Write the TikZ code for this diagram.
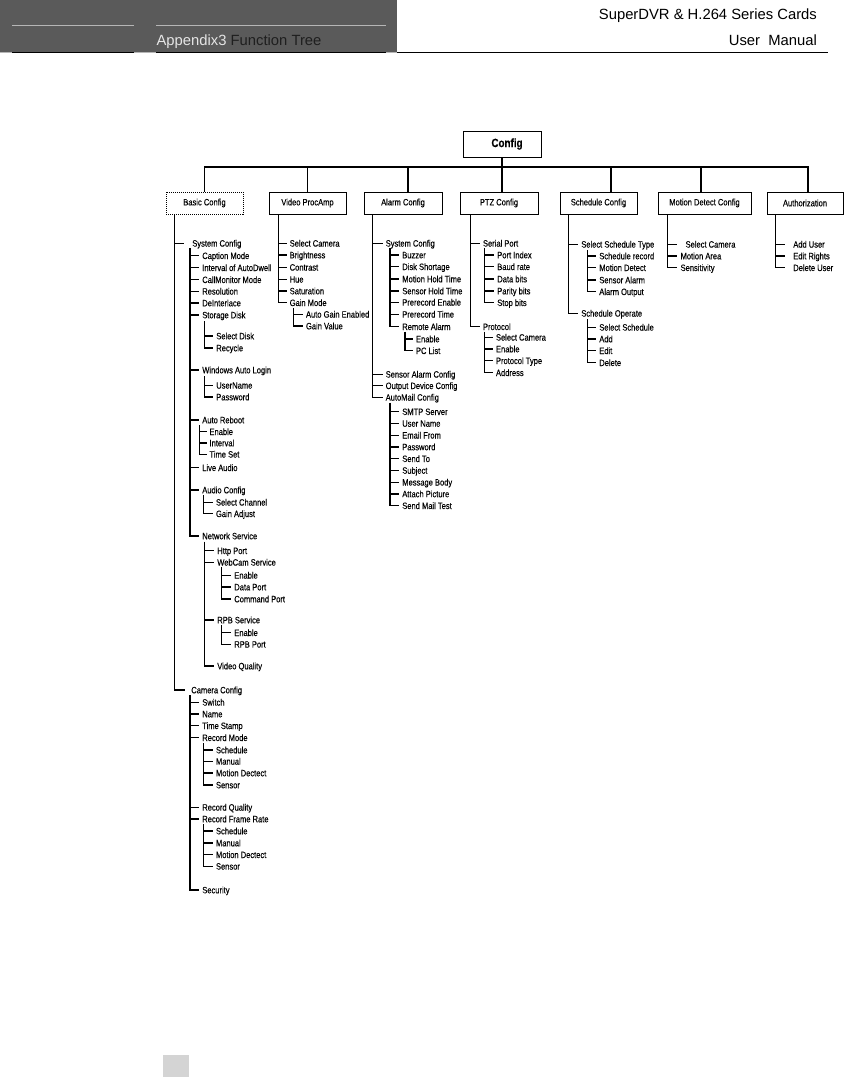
\documentclass[tikz,border=0pt]{standalone}
\usepackage{fontspec}
\setmainfont{Liberation Sans}
\newfontfamily\narrowsf{Liberation Sans}[FakeStretch=0.82, FakeBold=0.2]
\usepackage{tikz}
\usetikzlibrary{positioning,calc}
\definecolor{headgray}{RGB}{90,90,90}
\definecolor{headline}{RGB}{182,182,182}
\definecolor{pagegray}{RGB}{212,212,212}

\begin{document}
\begin{tikzpicture}[x=1pt, y=-1pt, line width=1.2pt,
  every node/.style={font=\narrowsf\fontsize{9.2}{10}\selectfont},
  leaf/.style={anchor=west, inner xsep=2.4pt, inner ysep=0pt, text height=6.6pt, text depth=0pt},
  cfgbox/.style={draw, line width=1pt, minimum width=77pt, minimum height=22pt, inner sep=1pt}]
  \useasboundingbox (0,0) rectangle (844,1077);

  \fill[headgray] (0,0) rectangle (397,52);
  \draw[headline, line width=1pt] (12,25.5) -- (134,25.5) (156,25.5) -- (386,25.5);
  \draw[black, line width=1pt] (0,52.5) -- (828,52.5);
  \draw[headline, line width=1pt] (0,52.5) -- (12,52.5) (134,52.5) -- (156,52.5) (386,52.5) -- (397,52.5);
  \node[anchor=base west, inner sep=0pt, font=\fontsize{14.8}{16}\selectfont] (chapter) at (156,45) {\textcolor{white!90!black}{Appendix3} \textcolor{black!88}{Function Tree}};
  \node[anchor=base east, inner sep=0pt, font=\fontsize{14.8}{16}\selectfont] (product) at (817.5,19) {SuperDVR \& H.264 Series Cards};
  \node[anchor=base east, inner sep=0pt, font=\fontsize{14.8}{16}\selectfont] (manual) at (817.5,45) {User\ \ Manual};
  \fill[pagegray] (163,1055) rectangle (189,1077);

  \node[draw, line width=1pt, minimum width=78pt, minimum height=26pt, font=\narrowsf\bfseries\fontsize{12}{14}\selectfont] (config) at (502,144) {\hspace*{10pt}Config};
  \node[cfgbox, densely dotted] (basic) at (204.5,203) {Basic Config};
  \node[cfgbox] (video) at (307.5,203) {Video ProcAmp};
  \node[cfgbox, minimum width=78pt] (alarm) at (403,203) {Alarm Config};
  \node[cfgbox, minimum width=78pt] (ptz) at (499,203) {PTZ Config};
  \node[cfgbox] (sched) at (598.5,203) {Schedule Config};
  \node[cfgbox, minimum width=93pt] (motion) at (704.5,203) {Motion Detect Config};
  \node[cfgbox, minimum width=76pt] (auth) at (805,203) {Authorization};
  \coordinate (bus) at (502,167);
  \draw (config) -- (bus);
  \draw (bus) -| (basic.north) (bus) -| (video.north) (bus) -| ([xshift=5pt]alarm.north)
        (bus) -| ([xshift=3pt]ptz.north) (bus) -| ([xshift=12.5pt]sched.north)
        (bus) -| ([xshift=-3.5pt]motion.north) (bus) -| ([xshift=3pt]auth.north);

  \coordinate (b-t) at ([xshift=9pt]basic.south west);
  \node[leaf, inner xsep=7.7pt] (b-sys) at (184,243.3) {System Config};
  \coordinate (b-sys-t) at (190,248);
  \node[leaf] (b-cap) at (199.3,255.7) {Caption Mode};
  \node[leaf] (b-dwell) at (199.3,267.7) {Interval of AutoDwell};
  \node[leaf] (b-callmon) at (199.3,279.7) {CallMonitor Mode};
  \node[leaf] (b-res) at (199.3,291.3) {Resolution};
  \node[leaf] (b-deint) at (199.3,303) {DeInterlace};
  \node[leaf] (b-disk) at (199.3,315) {Storage Disk};
  \coordinate (b-disk-t) at (204.3,321);
  \node[leaf] (b-seldisk) at (213.3,336) {Select Disk};
  \node[leaf] (b-recycle) at (213.3,348) {Recycle};
  \node[leaf] (b-login) at (199.3,370) {Windows Auto Login};
  \coordinate (b-login-t) at (204.3,376);
  \node[leaf] (b-user) at (213.3,385.3) {UserName};
  \node[leaf] (b-pass) at (213.3,397) {Password};
  \node[leaf] (b-reboot) at (199.3,420) {Auto Reboot};
  \coordinate (b-reboot-t) at (199.3,425);
  \node[leaf] (b-enable) at (206.5,431.7) {Enable};
  \node[leaf] (b-interval) at (206.5,443) {Interval};
  \node[leaf] (b-timeset) at (206.5,454.3) {Time Set};
  \node[leaf] (b-live) at (199.3,467.7) {Live Audio};
  \node[leaf] (b-audio) at (199.3,490) {Audio Config};
  \coordinate (b-audio-t) at (203.3,495);
  \node[leaf] (b-channel) at (213,502.3) {Select Channel};
  \node[leaf] (b-gain) at (213,513.7) {Gain Adjust};
  \node[leaf] (b-net) at (199.3,536) {Network Service};
  \coordinate (b-net-t) at (204.3,541.7);
  \node[leaf] (b-http) at (214.3,550.7) {Http Port};
  \node[leaf] (b-webcam) at (214.3,562.3) {WebCam Service};
  \coordinate (b-webcam-t) at (221.7,567);
  \node[leaf] (b-wc-enable) at (231.3,575.3) {Enable};
  \node[leaf] (b-wc-data) at (231.3,587) {Data Port};
  \node[leaf] (b-wc-cmd) at (231.3,599) {Command Port};
  \node[leaf] (b-rpb) at (214.3,620) {RPB Service};
  \coordinate (b-rpb-t) at (221.7,625);
  \node[leaf] (b-rpb-enable) at (231.3,632.7) {Enable};
  \node[leaf] (b-rpb-port) at (231.3,644.3) {RPB Port};
  \node[leaf] (b-quality) at (214.3,666) {Video Quality};
  \node[leaf, inner xsep=5.7pt] (b-cam) at (185,690) {Camera Config};
  \coordinate (b-cam-t) at (190,695);
  \node[leaf] (b-switch) at (199.3,702.3) {Switch};
  \node[leaf] (b-name) at (199.3,714) {Name};
  \node[leaf] (b-stamp) at (199.3,725.7) {Time Stamp};
  \node[leaf] (b-mode) at (199.3,737.7) {Record Mode};
  \coordinate (b-mode-t) at (203.3,743);
  \node[leaf] (b-m-sched) at (213,750) {Schedule};
  \node[leaf] (b-m-manual) at (213,761.3) {Manual};
  \node[leaf] (b-m-motion) at (213,773) {Motion Dectect};
  \node[leaf] (b-m-sensor) at (213,785) {Sensor};
  \node[leaf] (b-rq) at (199.3,807.3) {Record Quality};
  \node[leaf] (b-rate) at (199.3,819) {Record Frame Rate};
  \coordinate (b-rate-t) at (203.3,824);
  \node[leaf] (b-r-sched) at (213,831) {Schedule};
  \node[leaf] (b-r-manual) at (213,843) {Manual};
  \node[leaf] (b-r-motion) at (213,854.7) {Motion Dectect};
  \node[leaf] (b-r-sensor) at (213,866.3) {Sensor};
  \node[leaf] (b-security) at (199.3,890) {Security};
  \draw (b-t) |- (b-sys.west) (b-t) |- (b-cam.west);
  \draw (b-sys-t) |- (b-cap.west) (b-sys-t) |- (b-dwell.west) (b-sys-t) |- (b-callmon.west)
        (b-sys-t) |- (b-res.west) (b-sys-t) |- (b-deint.west) (b-sys-t) |- (b-disk.west)
        (b-sys-t) |- (b-login.west) (b-sys-t) |- (b-reboot.west) (b-sys-t) |- (b-live.west)
        (b-sys-t) |- (b-audio.west) (b-sys-t) |- (b-net.west);
  \draw (b-disk-t) |- (b-seldisk.west) (b-disk-t) |- (b-recycle.west);
  \draw (b-login-t) |- (b-user.west) (b-login-t) |- (b-pass.west);
  \draw (b-reboot-t) |- (b-enable.west) (b-reboot-t) |- (b-interval.west) (b-reboot-t) |- (b-timeset.west);
  \draw (b-audio-t) |- (b-channel.west) (b-audio-t) |- (b-gain.west);
  \draw (b-net-t) |- (b-http.west) (b-net-t) |- (b-webcam.west) (b-net-t) |- (b-rpb.west) (b-net-t) |- (b-quality.west);
  \draw (b-webcam-t) |- (b-wc-enable.west) (b-webcam-t) |- (b-wc-data.west) (b-webcam-t) |- (b-wc-cmd.west);
  \draw (b-rpb-t) |- (b-rpb-enable.west) (b-rpb-t) |- (b-rpb-port.west);
  \draw (b-cam-t) |- (b-switch.west) (b-cam-t) |- (b-name.west) (b-cam-t) |- (b-stamp.west)
        (b-cam-t) |- (b-mode.west) (b-cam-t) |- (b-rq.west) (b-cam-t) |- (b-rate.west) (b-cam-t) |- (b-security.west);
  \draw (b-mode-t) |- (b-m-sched.west) (b-mode-t) |- (b-m-manual.west) (b-mode-t) |- (b-m-motion.west) (b-mode-t) |- (b-m-sensor.west);
  \draw (b-rate-t) |- (b-r-sched.west) (b-rate-t) |- (b-r-manual.west) (b-rate-t) |- (b-r-motion.west) (b-rate-t) |- (b-r-sensor.west);

  \coordinate (v-t) at ([xshift=10pt]video.south west);
  \node[leaf] (v-cam) at (286.7,243.3) {Select Camera};
  \node[leaf] (v-bright) at (286.7,255) {Brightness};
  \node[leaf] (v-contrast) at (286.7,267.3) {Contrast};
  \node[leaf] (v-hue) at (286.7,279.3) {Hue};
  \node[leaf] (v-sat) at (286.7,291) {Saturation};
  \node[leaf] (v-gain) at (286.7,302.7) {Gain Mode};
  \coordinate (v-gain-t) at (293.3,308);
  \node[leaf] (v-auto) at (303,314.3) {Auto Gain Enabled};
  \node[leaf] (v-value) at (303,326) {Gain Value};
  \draw (v-t) |- (v-cam.west) (v-t) |- (v-bright.west) (v-t) |- (v-contrast.west)
        (v-t) |- (v-hue.west) (v-t) |- (v-sat.west) (v-t) |- (v-gain.west);
  \draw (v-gain-t) |- (v-auto.west) (v-gain-t) |- (v-value.west);

  \coordinate (a-t) at ([xshift=9.3pt]alarm.south west);
  \node[leaf] (a-sys) at (382.7,243.3) {System Config};
  \coordinate (a-sys-t) at (390,248);
  \node[leaf] (a-buzzer) at (399.3,255) {Buzzer};
  \node[leaf] (a-disk) at (399.3,266.7) {Disk Shortage};
  \node[leaf] (a-motion) at (399.3,279) {Motion Hold Time};
  \node[leaf] (a-sensor) at (399.3,291) {Sensor Hold Time};
  \node[leaf] (a-pre-en) at (399.3,302.3) {Prerecord Enable};
  \node[leaf] (a-pre-time) at (399.3,314.3) {Prerecord Time};
  \node[leaf] (a-remote) at (399.3,326.7) {Remote Alarm};
  \coordinate (a-remote-t) at (405,331.7);
  \node[leaf] (a-r-enable) at (413,339) {Enable};
  \node[leaf] (a-r-pc) at (413,350.7) {PC List};
  \node[leaf] (a-sensorcfg) at (382.7,374.3) {Sensor Alarm Config};
  \node[leaf] (a-output) at (382.7,385.7) {Output Device Config};
  \node[leaf] (a-mail) at (382.7,397.3) {AutoMail Config};
  \coordinate (a-mail-t) at (390,402.7);
  \node[leaf] (a-smtp) at (399.3,411.7) {SMTP Server};
  \node[leaf] (a-uname) at (399.3,423.4) {User Name};
  \node[leaf] (a-from) at (399.3,435.2) {Email From};
  \node[leaf] (a-pass) at (399.3,446.9) {Password};
  \node[leaf] (a-sendto) at (399.3,458.7) {Send To};
  \node[leaf] (a-subject) at (399.3,470.4) {Subject};
  \node[leaf] (a-body) at (399.3,482.2) {Message Body};
  \node[leaf] (a-attach) at (399.3,493.9) {Attach Picture};
  \node[leaf] (a-test) at (399.3,505.7) {Send Mail Test};
  \draw (a-t) |- (a-sys.west) (a-t) |- (a-sensorcfg.west) (a-t) |- (a-output.west) (a-t) |- (a-mail.west);
  \draw (a-sys-t) |- (a-buzzer.west) (a-sys-t) |- (a-disk.west) (a-sys-t) |- (a-motion.west)
        (a-sys-t) |- (a-sensor.west) (a-sys-t) |- (a-pre-en.west) (a-sys-t) |- (a-pre-time.west) (a-sys-t) |- (a-remote.west);
  \draw (a-remote-t) |- (a-r-enable.west) (a-remote-t) |- (a-r-pc.west);
  \draw (a-mail-t) |- (a-smtp.west) (a-mail-t) |- (a-uname.west) (a-mail-t) |- (a-from.west)
        (a-mail-t) |- (a-pass.west) (a-mail-t) |- (a-sendto.west) (a-mail-t) |- (a-subject.west)
        (a-mail-t) |- (a-body.west) (a-mail-t) |- (a-attach.west) (a-mail-t) |- (a-test.west);

  \coordinate (p-t) at ([xshift=11pt]ptz.south west);
  \node[leaf] (p-serial) at (480,243.3) {Serial Port};
  \coordinate (p-serial-t) at (484.3,248);
  \node[leaf] (p-index) at (494.3,255) {Port Index};
  \node[leaf] (p-baud) at (494.3,266.7) {Baud rate};
  \node[leaf] (p-data) at (494.3,279) {Data bits};
  \node[leaf] (p-parity) at (494.3,291) {Parity bits};
  \node[leaf] (p-stop) at (494.3,302.7) {Stop bits};
  \node[leaf] (p-proto) at (480,326.7) {Protocol};
  \coordinate (p-proto-t) at (484.3,331.7);
  \node[leaf] (p-cam) at (493,337.3) {Select Camera};
  \node[leaf] (p-enable) at (493,349) {Enable};
  \node[leaf] (p-type) at (493,360.7) {Protocol Type};
  \node[leaf] (p-addr) at (493,372.7) {Address};
  \draw (p-t) |- (p-serial.west) (p-t) |- (p-proto.west);
  \draw (p-serial-t) |- (p-index.west) (p-serial-t) |- (p-baud.west) (p-serial-t) |- (p-data.west)
        (p-serial-t) |- (p-parity.west) (p-serial-t) |- (p-stop.west);
  \draw (p-proto-t) |- (p-cam.west) (p-proto-t) |- (p-enable.west) (p-proto-t) |- (p-type.west) (p-proto-t) |- (p-addr.west);

  \coordinate (s-t) at ([xshift=9pt]sched.south west);
  \node[leaf] (s-type) at (578.3,244.3) {Select Schedule Type};
  \coordinate (s-type-t) at (587.3,250);
  \node[leaf] (s-record) at (596.3,256) {Schedule record};
  \node[leaf] (s-motion) at (596.3,267.7) {Motion Detect};
  \node[leaf] (s-sensor) at (596.3,280) {Sensor Alarm};
  \node[leaf] (s-output) at (596.3,291.7) {Alarm Output};
  \node[leaf] (s-oper) at (578.3,313.3) {Schedule Operate};
  \coordinate (s-oper-t) at (587.3,319);
  \node[leaf] (s-select) at (596.3,327.3) {Select Schedule};
  \node[leaf] (s-add) at (596.3,339) {Add};
  \node[leaf] (s-edit) at (596.3,350.7) {Edit};
  \node[leaf] (s-delete) at (596.3,362.7) {Delete};
  \draw (s-t) |- (s-type.west) (s-t) |- (s-oper.west);
  \draw (s-type-t) |- (s-record.west) (s-type-t) |- (s-motion.west) (s-type-t) |- (s-sensor.west) (s-type-t) |- (s-output.west);
  \draw (s-oper-t) |- (s-select.west) (s-oper-t) |- (s-add.west) (s-oper-t) |- (s-edit.west) (s-oper-t) |- (s-delete.west);

  \coordinate (m-t) at ([xshift=9.7pt]motion.south west);
  \node[leaf, inner xsep=8.3pt] (m-cam) at (676.7,244.3) {Select Camera};
  \node[leaf, inner xsep=3.3pt] (m-area) at (676.7,256) {Motion Area};
  \node[leaf, inner xsep=3.3pt] (m-sens) at (676.7,267.7) {Sensitivity};
  \draw (m-t) |- (m-cam.west) (m-t) |- (m-area.west) (m-t) |- (m-sens.west);

  \coordinate (u-t) at ([xshift=8.7pt]auth.south west);
  \node[leaf, inner xsep=7.7pt] (u-add) at (785,244.3) {Add User};
  \node[leaf, inner xsep=7.7pt] (u-edit) at (785,256) {Edit Rights};
  \node[leaf, inner xsep=7.7pt] (u-del) at (785,267.7) {Delete User};
  \draw (u-t) |- (u-add.west) (u-t) |- (u-edit.west) (u-t) |- (u-del.west);
\end{tikzpicture}
\end{document}
